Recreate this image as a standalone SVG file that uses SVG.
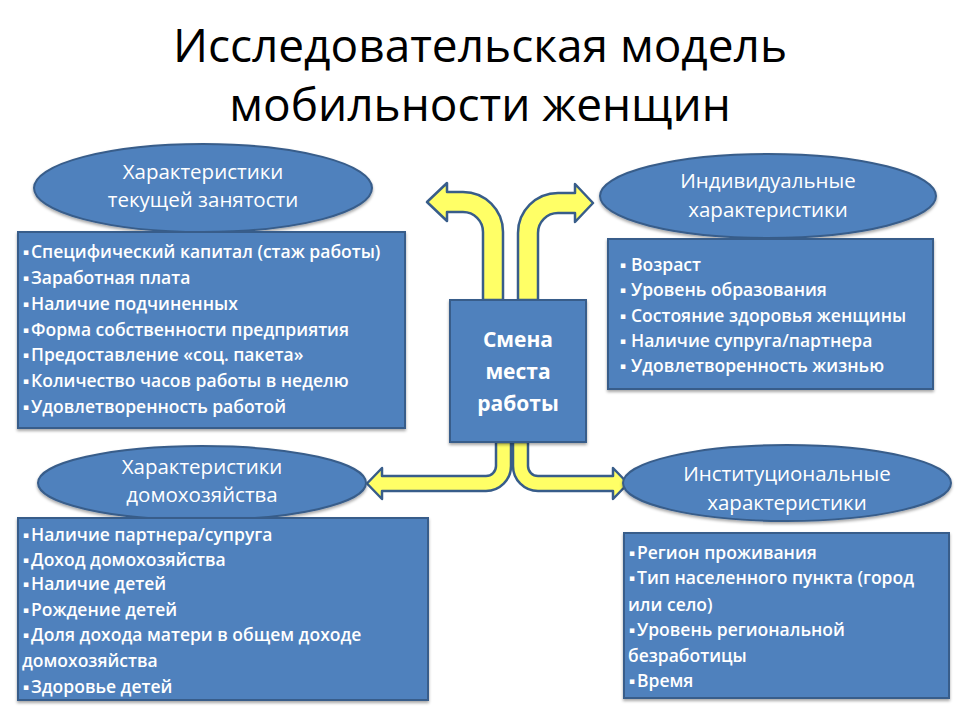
<svg xmlns="http://www.w3.org/2000/svg" width="960" height="720" viewBox="0 0 960 720">
<style>
.shape{fill:#4F81BD;stroke:#385D8A;stroke-width:2}
.arrow{fill:#FFFF66;stroke:#385D8A;stroke-width:2.5;stroke-linejoin:round}
.title{font-family:"Open Sans","Noto Sans","DejaVu Sans",sans-serif;font-size:46px;fill:#000;text-anchor:middle}
.ell{font-family:"Open Sans","Noto Sans","DejaVu Sans",sans-serif;font-size:20.5px;fill:#fff;text-anchor:middle}
.item{font-family:"Open Sans","Noto Sans","DejaVu Sans",sans-serif;font-size:17.5px;font-weight:600;fill:#fff}
.bul{font-family:"DejaVu Sans",sans-serif;font-size:9px;fill:#fff}
.center{font-family:"Open Sans","Noto Sans","DejaVu Sans",sans-serif;font-size:21px;font-weight:bold;fill:#fff;text-anchor:middle}
</style>
<defs>
<filter id="sh" x="-10%" y="-10%" width="120%" height="130%">
<feDropShadow dx="0" dy="2" stdDeviation="1.5" flood-color="#000" flood-opacity="0.35"/>
</filter>
</defs>
<rect width="960" height="720" fill="#fff"/>
<g id="title">
<text class="title" x="480" y="62">Исследовательская модель</text>
<text class="title" x="480" y="121">мобильности женщин</text>
</g>
<g id="connectors">
<path class="arrow" d="M 483 300 L 483 232 A 20 20 0 0 0 463 212 L 447 212 L 447 221 L 427 202 L 447 183 L 447 192 L 463 192 A 40 40 0 0 1 503 232 L 503 300 Z"/>
<path class="arrow" d="M 518 300 L 518 233 A 40 40 0 0 1 558 193 L 575 193 L 575 184 L 593 203 L 575 222 L 575 213 L 558 213 A 20 20 0 0 0 538 233 L 538 300 Z"/>
<path class="arrow" d="M 496 442 L 496 466 A 10 10 0 0 1 486 476 L 382 476 L 382 468 L 367 483.5 L 382 499 L 382 491 L 486 491 A 25 25 0 0 0 511 466 L 511 442 Z"/>
<path class="arrow" d="M 513 442 L 513 466 A 25 25 0 0 0 538 491 L 613 491 L 613 499 L 628 483.5 L 613 468 L 613 476 L 538 476 A 10 10 0 0 1 528 466 L 528 442 Z"/>
</g>
<g id="center">
<rect class="shape" x="450" y="300" width="136" height="142" filter="url(#sh)"/>
<text class="center" x="518" y="347">Смена</text>
<text class="center" x="518" y="379">места</text>
<text class="center" x="518" y="411">работы</text>
</g>
<g id="employment">
<ellipse class="shape" cx="203" cy="188" rx="169" ry="44" filter="url(#sh)"/>
<text class="ell" x="203" y="179">Характеристики</text>
<text class="ell" x="203" y="207">текущей занятости</text>
</g>
<g id="employment-list">
<rect class="shape" x="18" y="232" width="387" height="196" filter="url(#sh)"/>
<text class="bul" x="23" y="255">▪</text><text class="item" x="31" y="258">Специфический капитал (стаж работы)</text>
<text class="bul" x="23" y="281">▪</text><text class="item" x="31" y="284">Заработная плата</text>
<text class="bul" x="23" y="307">▪</text><text class="item" x="31" y="310">Наличие подчиненных</text>
<text class="bul" x="23" y="333">▪</text><text class="item" x="31" y="336">Форма собственности предприятия</text>
<text class="bul" x="23" y="358">▪</text><text class="item" x="31" y="361">Предоставление «соц. пакета»</text>
<text class="bul" x="23" y="384">▪</text><text class="item" x="31" y="387">Количество часов работы в неделю</text>
<text class="bul" x="23" y="410">▪</text><text class="item" x="31" y="413">Удовлетворенность работой</text>
</g>
<g id="individual">
<ellipse class="shape" cx="768" cy="196" rx="168" ry="42" filter="url(#sh)"/>
<text class="ell" x="768" y="188">Индивидуальные</text>
<text class="ell" x="768" y="217">характеристики</text>
</g>
<g id="individual-list">
<rect class="shape" x="608" y="239" width="325" height="150" filter="url(#sh)"/>
<text class="bul" x="620" y="268">▪</text><text class="item" x="631" y="271">Возраст</text>
<text class="bul" x="620" y="293">▪</text><text class="item" x="631" y="296">Уровень образования</text>
<text class="bul" x="620" y="319">▪</text><text class="item" x="631" y="322">Состояние здоровья женщины</text>
<text class="bul" x="620" y="344">▪</text><text class="item" x="631" y="347">Наличие супруга/партнера</text>
<text class="bul" x="620" y="369">▪</text><text class="item" x="631" y="372">Удовлетворенность жизнью</text>
</g>
<g id="household">
<ellipse class="shape" cx="202" cy="483" rx="164" ry="37" filter="url(#sh)"/>
<text class="ell" x="202" y="474">Характеристики</text>
<text class="ell" x="202" y="502">домохозяйства</text>
</g>
<g id="household-list">
<rect class="shape" x="18" y="518" width="410" height="182" filter="url(#sh)"/>
<text class="bul" x="23" y="538">▪</text><text class="item" x="31" y="541">Наличие партнера/супруга</text>
<text class="bul" x="23" y="563">▪</text><text class="item" x="31" y="566">Доход домохозяйства</text>
<text class="bul" x="23" y="587">▪</text><text class="item" x="31" y="590">Наличие детей</text>
<text class="bul" x="23" y="613">▪</text><text class="item" x="31" y="616">Рождение детей</text>
<text class="bul" x="23" y="638">▪</text><text class="item" x="31" y="641">Доля дохода матери в общем доходе</text>
<text class="item" x="22" y="667">домохозяйства</text>
<text class="bul" x="23" y="690">▪</text><text class="item" x="31" y="693">Здоровье детей</text>
</g>
<g id="institutional">
<ellipse class="shape" cx="787" cy="483" rx="164" ry="38" filter="url(#sh)"/>
<text class="ell" x="787" y="481">Институциональные</text>
<text class="ell" x="787" y="510">характеристики</text>
</g>
<g id="institutional-list">
<rect class="shape" x="624" y="533" width="325" height="165" filter="url(#sh)"/>
<text class="bul" x="629" y="556">▪</text><text class="item" x="637" y="559">Регион проживания</text>
<text class="bul" x="629" y="581">▪</text><text class="item" x="637" y="584">Тип населенного пункта (город</text>
<text class="item" x="628" y="611">или село)</text>
<text class="bul" x="629" y="633">▪</text><text class="item" x="637" y="636">Уровень региональной</text>
<text class="item" x="628" y="662">безработицы</text>
<text class="bul" x="629" y="684">▪</text><text class="item" x="637" y="687">Время</text>
</g>
</svg>
